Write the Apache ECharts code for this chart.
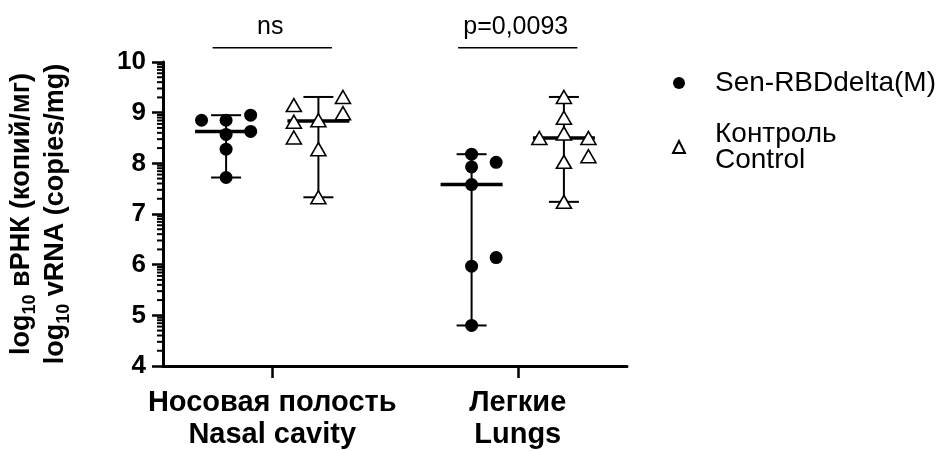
<!DOCTYPE html>
<html>
<head>
<meta charset="utf-8">
<script src="https://cdn.jsdelivr.net/npm/echarts@6/dist/echarts.min.js"></script>
<style>
html,body{margin:0;padding:0;background:#fff;}
#chart{width:939px;height:451px;}
</style>
</head>
<body>
<div id="chart"></div>
<script>
// ---- data ----
const categoriesRu = ['Носовая полость', 'Легкие'];
const categoriesEn = ['Nasal cavity', 'Lungs'];
const seriesNames = ['Sen-RBDdelta(M)', 'Контроль'];
const legendLabels = ['Sen-RBDdelta(M)', 'Контроль\nControl'];
const yTickValues = [4, 5, 6, 7, 8, 9, 10];

// log10 vRNA values per animal
const senNasal  = [8.85, 8.85, 8.95, 8.63, 8.57, 8.28, 7.72];
const senLungs  = [8.18, 7.93, 7.58, 5.97, 4.80, 8.02, 6.14];
const ctrlNasal = [9.15, 8.82, 8.51, 8.85, 8.28, 7.33, 9.31, 8.99];
const ctrlLungs = [9.31, 8.90, 8.59, 8.03, 7.24, 8.50, 8.50, 8.14];

// jitter columns (layout only)
const senNasalCols  = [-1, 0, 1, 1, 0, 0, 0];
const senLungsCols  = [0, 0, 0, 0, 0, 1, 1];
const ctrlNasalCols = [-1, -1, -1, 0, 0, 0, 1, 1];
const ctrlLungsCols = [0, 0, 0, 0, 0, -1, 1, 1];

const sigLabels = ['ns', 'p=0,0093'];

// ---- layout constants ----
const X_MIN = -0.445, X_MAX = 1.445;
const GROUP_OFF = 0.188;
const JITTER = 0.1;
const BRACKET_Y = 10.28;
const BRACKET_HALF = 0.243;
const FONT = 'Liberation Sans, Arial, sans-serif';

function points(vals, cols, cat, side) {
  return vals.map((v, i) => [cat + side * GROUP_OFF + cols[i] * JITTER, v]);
}
function median(a) {
  const s = a.slice().sort((p, q) => p - q);
  const n = s.length;
  return n % 2 ? s[(n - 1) / 2] : (s[n / 2 - 1] + s[n / 2]) / 2;
}
function summary(vals, cat, side) {
  return [cat + side * GROUP_OFF, Math.min.apply(null, vals), median(vals), Math.max.apply(null, vals)];
}

const senData = points(senNasal, senNasalCols, 0, -1).concat(points(senLungs, senLungsCols, 1, -1));
const ctrlData = points(ctrlNasal, ctrlNasalCols, 0, 1).concat(points(ctrlLungs, ctrlLungsCols, 1, 1));
const summaryData = [
  summary(senNasal, 0, -1), summary(ctrlNasal, 0, 1),
  summary(senLungs, 1, -1), summary(ctrlLungs, 1, 1)
];

// log minor ticks
const minorTicks = [];
for (let d = yTickValues[0]; d < yTickValues[yTickValues.length - 1]; d++) {
  for (let k = 2; k <= 9; k++) minorTicks.push([X_MIN, d + Math.log10(k)]);
}

const sigData = sigLabels.map((t, i) => [i, BRACKET_Y]);

const chart = echarts.init(document.getElementById('chart'));
chart.setOption({
  animation: false,
  backgroundColor: '#fff',
  grid: { left: 163, right: 312, top: 62, bottom: 82, containLabel: false },
  legend: {
    data: seriesNames,
    orient: 'vertical',
    left: 667,
    top: 64,
    itemWidth: 12,
    itemHeight: 12,
    itemGap: 23,
    formatter: function (name) { return legendLabels[seriesNames.indexOf(name)]; },
    textStyle: { fontFamily: FONT, fontSize: 28, lineHeight: 26, color: '#000', padding: [0, 0, 0, 25] }
  },
  xAxis: {
    type: 'value',
    min: X_MIN,
    max: X_MAX,
    splitLine: { show: false },
    axisLine: { show: true, onZero: false, lineStyle: { color: '#000', width: 3 } },
    axisTick: { show: true, customValues: [0, 1], length: 12, lineStyle: { color: '#000', width: 2.5 } },
    axisLabel: {
      customValues: [0, 1],
      margin: 21,
      formatter: function (v) {
        const i = Math.round(v);
        return categoriesRu[i] + '\n' + categoriesEn[i];
      },
      fontFamily: FONT, fontSize: 29, fontWeight: 'bold', lineHeight: 32, color: '#000', align: 'center'
    }
  },
  yAxis: {
    type: 'value',
    min: 4,
    max: 10,
    interval: 1,
    splitLine: { show: false },
    axisLine: { show: true, onZero: false, lineStyle: { color: '#000', width: 3 } },
    axisTick: { show: true, length: 11, lineStyle: { color: '#000', width: 2.5 } },
    axisLabel: {
      margin: 17,
      formatter: function (v) { return yTickValues.indexOf(v) >= 0 ? String(v) : ''; },
      fontFamily: FONT, fontSize: 26, fontWeight: 'bold', color: '#000'
    },
    name: '{b|log}{s|10}{b| вРНК (копий/мг)}\n{b|log}{s|10}{b| vRNA (copies/mg)}',
    nameLocation: 'middle',
    nameRotate: 90,
    nameGap: 90,
    nameTextStyle: {
      color: '#000',
      lineHeight: 34,
      rich: {
        b: { fontFamily: FONT, fontSize: 27, fontWeight: 'bold', color: '#000', lineHeight: 34 },
        s: { fontFamily: FONT, fontSize: 18, fontWeight: 'bold', color: '#000', verticalAlign: 'bottom', lineHeight: 27 }
      }
    }
  },
  series: [
    {
      type: 'custom',
      name: 'minorTicks',
      coordinateSystem: 'cartesian2d',
      silent: true,
      z: 1,
      data: minorTicks,
      renderItem: function (params, api) {
        const p = api.coord([api.value(0), api.value(1)]);
        return { type: 'line', shape: { x1: p[0] - 6, y1: p[1], x2: p[0], y2: p[1] },
                 style: { stroke: '#000', lineWidth: 2 } };
      }
    },
    {
      type: 'custom',
      name: 'summary',
      coordinateSystem: 'cartesian2d',
      silent: true,
      z: 1,
      data: summaryData,
      renderItem: function (params, api) {
        const x = api.value(0);
        const lo = api.coord([x, api.value(1)]);
        const md = api.coord([x, api.value(2)]);
        const hi = api.coord([x, api.value(3)]);
        const cap = 15, mh = 31;
        return {
          type: 'group',
          children: [
            { type: 'line', shape: { x1: lo[0], y1: lo[1], x2: hi[0], y2: hi[1] }, style: { stroke: '#000', lineWidth: 2 } },
            { type: 'line', shape: { x1: lo[0] - cap, y1: lo[1], x2: lo[0] + cap, y2: lo[1] }, style: { stroke: '#000', lineWidth: 2 } },
            { type: 'line', shape: { x1: hi[0] - cap, y1: hi[1], x2: hi[0] + cap, y2: hi[1] }, style: { stroke: '#000', lineWidth: 2 } },
            { type: 'line', shape: { x1: md[0] - mh, y1: md[1], x2: md[0] + mh, y2: md[1] }, style: { stroke: '#000', lineWidth: 3.5 } }
          ]
        };
      }
    },
    {
      type: 'custom',
      name: 'sig',
      coordinateSystem: 'cartesian2d',
      silent: true,
      z: 1,
      data: sigData,
      renderItem: function (params, api) {
        const c = api.value(0);
        const a = api.coord([c - BRACKET_HALF, api.value(1)]);
        const b = api.coord([c + BRACKET_HALF, api.value(1)]);
        return {
          type: 'group',
          children: [
            { type: 'line', shape: { x1: a[0], y1: a[1], x2: b[0], y2: b[1] }, style: { stroke: '#000', lineWidth: 1.5 } },
            { type: 'text', style: { text: sigLabels[params.dataIndex], x: (a[0] + b[0]) / 2 - 2, y: a[1] - 8,
              fill: '#000', fontFamily: FONT, fontSize: 25, align: 'center', verticalAlign: 'bottom' } }
          ]
        };
      }
    },
    {
      type: 'scatter',
      name: seriesNames[0],
      z: 3,
      symbol: 'circle',
      symbolSize: 13,
      itemStyle: { color: '#000', opacity: 1 },
      data: senData
    },
    {
      type: 'scatter',
      name: seriesNames[1],
      z: 3,
      symbol: 'triangle',
      symbolSize: [15, 13],
      itemStyle: { color: '#fff', borderColor: '#000', borderWidth: 1.6, opacity: 1 },
      data: ctrlData
    }
  ]
});
</script>
</body>
</html>
